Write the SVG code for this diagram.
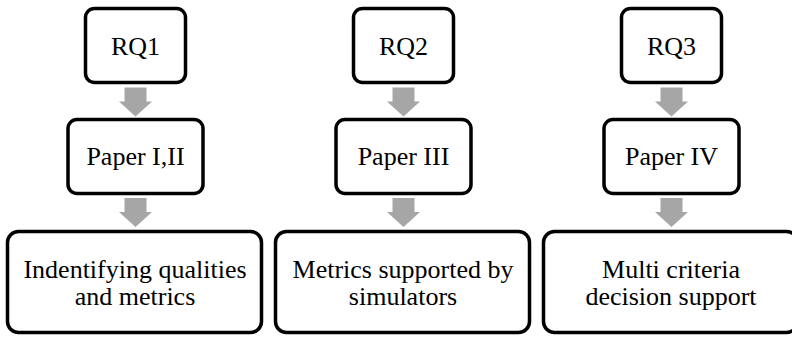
<svg xmlns="http://www.w3.org/2000/svg" width="792" height="339" viewBox="0 0 792 339">
  <style>
    .box { fill: #ffffff; stroke: #000000; stroke-width: 3.5; }
    text { font-family: 'Liberation Serif', 'DejaVu Serif', 'Noto Serif', 'Times New Roman', Times, serif; font-size: 26px; fill: #000000; text-anchor: middle; }
    .arrow { fill: #a6a6a6; }
  </style>
  <defs>
    <!-- block arrow pointing down, origin at top-centre of shaft -->
    <path id="down" d="M -11 0 H 11 V 14 H 16.5 L 0 29 L -16.5 14 H -11 Z"/>
  </defs>
  <rect width="792" height="339" fill="#ffffff"/>

  <g id="connectors">
    <use href="#down" class="arrow" x="135.5" y="87.5"/>
    <use href="#down" class="arrow" x="135.5" y="198"/>
    <use href="#down" class="arrow" x="403.5" y="87.5"/>
    <use href="#down" class="arrow" x="403.5" y="198"/>
    <use href="#down" class="arrow" x="671.5" y="87.5"/>
    <use href="#down" class="arrow" x="671.5" y="198"/>
  </g>

  <g id="rq1">
    <rect class="box" x="85.5" y="8.5" width="100" height="74" rx="9"/>
    <text x="135.5" y="54.5" font-family="'Liberation Serif', serif">RQ1</text>
  </g>
  <g id="rq2">
    <rect class="box" x="353.5" y="8.5" width="100" height="74" rx="9"/>
    <text x="403.5" y="54.5" font-family="'Liberation Serif', serif">RQ2</text>
  </g>
  <g id="rq3">
    <rect class="box" x="621.5" y="8.5" width="100" height="74" rx="9"/>
    <text x="671.5" y="54.5" font-family="'Liberation Serif', serif">RQ3</text>
  </g>

  <g id="paper1">
    <rect class="box" x="68" y="119.5" width="135" height="74" rx="9"/>
    <text x="135.5" y="165" font-family="'Liberation Serif', serif">Paper I,II</text>
  </g>
  <g id="paper2">
    <rect class="box" x="336" y="119.5" width="135" height="74" rx="9"/>
    <text x="403.5" y="165" font-family="'Liberation Serif', serif">Paper III</text>
  </g>
  <g id="paper3">
    <rect class="box" x="604" y="119.5" width="135" height="74" rx="9"/>
    <text x="671.5" y="165" font-family="'Liberation Serif', serif">Paper IV</text>
  </g>

  <g id="result1">
    <rect class="box" x="7.5" y="231.5" width="254" height="101" rx="11"/>
    <text x="135" y="278" font-family="'Liberation Serif', serif">Indentifying qualities</text>
    <text x="135" y="305" font-family="'Liberation Serif', serif">and metrics</text>
  </g>
  <g id="result2">
    <rect class="box" x="275.5" y="231.5" width="254" height="101" rx="11"/>
    <text x="403" y="278" font-family="'Liberation Serif', serif">Metrics supported by</text>
    <text x="403" y="305" font-family="'Liberation Serif', serif">simulators</text>
  </g>
  <g id="result3">
    <rect class="box" x="543.5" y="231.5" width="254" height="101" rx="11"/>
    <text x="671" y="278" font-family="'Liberation Serif', serif">Multi criteria</text>
    <text x="671" y="305" font-family="'Liberation Serif', serif">decision support</text>
  </g>
</svg>
